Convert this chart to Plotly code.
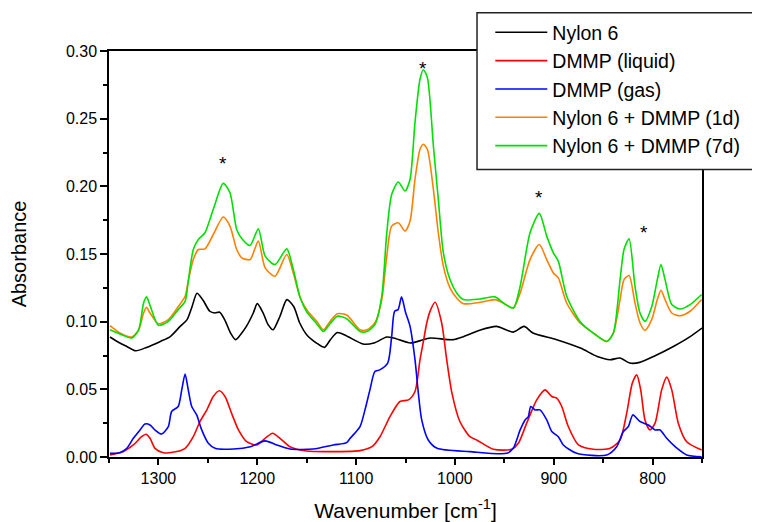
import plotly.graph_objects as go

# ---------------- data ----------------
wn_nylon = [1349, 1339, 1332, 1323, 1312, 1298, 1288, 1278, 1271, 1266, 1261, 1255, 1248, 1243, 1238,
            1233, 1227, 1222, 1217, 1211, 1204, 1200, 1194, 1189, 1184, 1177, 1170, 1163, 1157, 1150,
            1140, 1132, 1126, 1119, 1110, 1093, 1082, 1069, 1062, 1045, 1035, 1025, 1002, 991, 975,
            958, 941, 930, 921, 897, 873, 856, 843, 833, 823, 813, 799, 779, 762, 750]
abs_nylon = [0.0887, 0.0842, 0.0817, 0.0785, 0.081, 0.0854, 0.089, 0.0965, 0.1015, 0.111, 0.121, 0.116,
             0.1077, 0.1064, 0.107, 0.1015, 0.0916, 0.0867, 0.0904, 0.0965, 0.1064, 0.1133, 0.1064,
             0.0978, 0.094, 0.104, 0.1163, 0.111, 0.099, 0.0904, 0.0842, 0.081, 0.0867, 0.092, 0.0896,
             0.0835, 0.0842, 0.0887, 0.0879, 0.0842, 0.086, 0.0879, 0.0867, 0.089, 0.0936, 0.0965,
             0.0923, 0.0965, 0.0916, 0.0867, 0.0805, 0.0743, 0.0719, 0.0731, 0.0694, 0.0699, 0.0743,
             0.0817, 0.089, 0.0953]

wn_liquid = [1349, 1335.5, 1325.4, 1317, 1312.6, 1308.5, 1303.5, 1295, 1281.5, 1273, 1264.7, 1258, 1251,
             1244.5, 1238.4, 1232.6, 1226, 1219, 1210.7, 1200.6, 1192, 1184.4, 1177, 1166.9, 1150, 1123,
             1096, 1084, 1075.8, 1065.7, 1055.6, 1047, 1040.4, 1035.3, 1032, 1028.5, 1025, 1020, 1013.4,
             1008.3, 1003, 995, 984.7, 977.9, 961, 942.5, 935.8, 927.4, 917.2, 908.8, 902, 897, 891.9,
             885.3, 875, 859.9, 843, 832.9, 826.2, 820.5, 816, 812, 807.7, 802.6, 797.5, 790.8, 785.7,
             780.6, 774, 765.5, 750.4]
abs_liquid = [0.0015, 0.004, 0.0089, 0.015, 0.0168, 0.0138, 0.0064, 0.0032, 0.004, 0.0064, 0.015, 0.0262,
              0.0348, 0.0447, 0.0489, 0.0447, 0.0324, 0.02, 0.0113, 0.0089, 0.0138, 0.0175, 0.0138, 0.0076,
              0.0044, 0.004, 0.0047, 0.0076, 0.015, 0.0299, 0.041, 0.0422, 0.0484, 0.0719, 0.085, 0.099,
              0.108, 0.1143, 0.099, 0.0719, 0.0472, 0.0262, 0.015, 0.0126, 0.0057, 0.0057, 0.0101, 0.025,
              0.0422, 0.0496, 0.0447, 0.0435, 0.0373, 0.0225, 0.0089, 0.0057, 0.0064, 0.0126, 0.0324,
              0.0546, 0.0607, 0.0496, 0.0274, 0.02, 0.025, 0.0496, 0.059, 0.0496, 0.025, 0.0113, 0.0052]

wn_gas = [1349, 1339, 1332, 1325.4, 1318.6, 1313.6, 1308.5, 1303.5, 1296.7, 1290, 1286.6, 1280, 1276.4,
          1273, 1269.8, 1266.3, 1261.3, 1256.2, 1249.5, 1242.7, 1224, 1207, 1192, 1180.3, 1166.9, 1143.3,
          1123, 1109.5, 1106, 1096, 1091, 1086, 1081, 1076, 1068, 1064, 1061, 1057.5, 1054, 1050, 1045.4,
          1040.4, 1037, 1033.6, 1027, 1018, 984.7, 947.6, 941, 934, 929, 925.7, 923.3, 919, 913.9, 907.1,
          902, 895.4, 890.3, 876.8, 846.4, 836.3, 829.6, 824.5, 820, 812.7, 804.3, 797.5, 792.4, 785.7,
          777.2, 765.5, 750.4]
abs_gas = [0.0027, 0.0032, 0.0064, 0.0138, 0.02, 0.0244, 0.0237, 0.02, 0.017, 0.0225, 0.0336, 0.0373,
           0.0496, 0.0613, 0.0496, 0.0373, 0.0311, 0.02, 0.0101, 0.0064, 0.0059, 0.0076, 0.0119, 0.0089,
           0.0059, 0.0059, 0.0089, 0.0106, 0.0138, 0.0225, 0.0348, 0.0496, 0.0632, 0.0644, 0.0694, 0.089,
           0.1077, 0.1089, 0.1183, 0.107, 0.0965, 0.0719, 0.0472, 0.0274, 0.0126, 0.0064, 0.004, 0.0027,
           0.0064, 0.02, 0.0274, 0.0299, 0.0373, 0.0348, 0.0348, 0.0274, 0.0188, 0.015, 0.0089, 0.0027,
           0.0015, 0.0076, 0.0188, 0.0225, 0.0311, 0.0262, 0.0237, 0.02, 0.02, 0.0138, 0.0076, 0.0015,
           0.0002]

wn_mix = [1349, 1339, 1327, 1320, 1315, 1312, 1308.5, 1300, 1290, 1280, 1273, 1269.8, 1264.7, 1259.6,
          1252.9, 1244.5, 1234.4, 1227.6, 1220.8, 1215.7, 1207.3, 1198.9, 1192, 1182, 1170.2, 1163.5,
          1156.7, 1150, 1139.8, 1133, 1126.4, 1119, 1109.5, 1096, 1089, 1080.8, 1074, 1069, 1064, 1057.3,
          1050.5, 1045.4, 1040.4, 1035.3, 1032, 1027.9, 1021.8, 1016.8, 1011.7, 1005, 998.2, 991.5, 974.6,
          959.4, 951, 940.9, 934, 924, 914.6, 907.1, 900.4, 895.4, 886.9, 873.4, 860, 846.4, 839.7, 832.9,
          828.9, 823.8, 817.8, 812.7, 807.7, 800.9, 795.2, 791.5, 787.4, 780.6, 772.2, 762, 750.4]
abs_1d = [0.097, 0.0916, 0.0887, 0.094, 0.1064, 0.1106, 0.1064, 0.0985, 0.1015, 0.111, 0.1188, 0.13,
          0.1459, 0.1533, 0.1538, 0.1644, 0.1773, 0.1706, 0.1533, 0.1472, 0.1459, 0.1595, 0.1398, 0.1336,
          0.1496, 0.136, 0.118, 0.1089, 0.1002, 0.094, 0.1002, 0.1059, 0.1049, 0.094, 0.094, 0.0994,
          0.1163, 0.148, 0.1706, 0.1731, 0.1669, 0.1743, 0.2052, 0.2274, 0.2311, 0.2274, 0.1978, 0.1657,
          0.141, 0.125, 0.1175, 0.1133, 0.1143, 0.1163, 0.1138, 0.1101, 0.1212, 0.1459, 0.157, 0.1459,
          0.136, 0.1324, 0.1138, 0.099, 0.0916, 0.0854, 0.0916, 0.1163, 0.1311, 0.1341, 0.1138, 0.099,
          0.0936, 0.1015, 0.1163, 0.1232, 0.1163, 0.1064, 0.1044, 0.1077, 0.1163]
abs_7d = [0.094, 0.0909, 0.0879, 0.094, 0.1138, 0.1183, 0.112, 0.0973, 0.1002, 0.1089, 0.115, 0.13,
          0.1533, 0.1607, 0.1657, 0.183, 0.2022, 0.1953, 0.1681, 0.1615, 0.1563, 0.1686, 0.1484, 0.1422,
          0.1538, 0.1385, 0.118, 0.1073, 0.0985, 0.0928, 0.0985, 0.104, 0.1022, 0.0928, 0.0928, 0.098,
          0.1188, 0.165, 0.1940, 0.2032, 0.1965, 0.2052, 0.2472, 0.2793, 0.2862, 0.2805, 0.2300, 0.1904,
          0.1510, 0.1311, 0.1212, 0.1163, 0.1168, 0.1183, 0.1138, 0.1101, 0.1262, 0.1657, 0.18, 0.1632,
          0.1509, 0.1447, 0.1188, 0.1002, 0.0916, 0.0854, 0.0916, 0.1311, 0.1533, 0.1612, 0.1262, 0.1064,
          0.1002, 0.111, 0.1311, 0.1422, 0.1311, 0.1126, 0.1094, 0.1126, 0.12]

series_names = ["Nylon 6", "DMMP (liquid)", "DMMP (gas)", "Nylon 6 + DMMP (1d)", "Nylon 6 + DMMP (7d)"]
series_colors = ["#000000", "#FF0000", "#0000FF", "#FF8000", "#00E000"]

star_wn = [1234.5, 1032.5, 915, 808.5]
star_abs = [0.217, 0.287, 0.192, 0.1656]

x_tick_vals = [1300, 1200, 1100, 1000, 900, 800]
y_tick_vals = [0.00, 0.05, 0.10, 0.15, 0.20, 0.25, 0.30]

# ---------------- figure ----------------
FONT = "Arial, Liberation Sans, sans-serif"
fig = go.Figure()
xs = [wn_nylon, wn_liquid, wn_gas, wn_mix, wn_mix]
ys = [abs_nylon, abs_liquid, abs_gas, abs_1d, abs_7d]
for x, y, name, col in zip(xs, ys, series_names, series_colors):
    fig.add_trace(go.Scatter(x=x, y=y, name=name, mode="lines",
                             line=dict(color=col, width=1.6, shape="spline", smoothing=0.7)))

for sx, sy in zip(star_wn, star_abs):
    fig.add_annotation(x=sx, y=sy, text="*", showarrow=False, xanchor="center", yanchor="middle",
                       font=dict(family=FONT, size=19, color="black"))

# legend box
fig.add_shape(type="rect", xref="paper", yref="paper", x0=0.6206, x1=1.1, y0=0.708, y1=1.094,
              fillcolor="white", line=dict(color="#222222", width=1.5), layer="above")

# page body adds an 8 px margin, so the figure is 8 px smaller and margins shifted
fig.update_layout(
    width=752, height=514,
    margin=dict(l=101, r=58, t=43, b=65, autoexpand=False),
    paper_bgcolor="white", plot_bgcolor="white",
    font=dict(family=FONT, color="black"),
    showlegend=True,
    legend=dict(x=0.643, y=1.0934, xanchor="left", yanchor="top", bgcolor="rgba(0,0,0,0)",
                borderwidth=0, font=dict(family=FONT, size=19.5, color="black"),
                itemwidth=52, tracegroupgap=0),
    xaxis=dict(range=[1350, 750], autorange=False, tickvals=x_tick_vals, automargin=False,
               ticks="outside", ticklen=6, tickwidth=1.5, tickcolor="black",
               minor=dict(dtick=50, ticks="outside", ticklen=4, tickwidth=1.5, tickcolor="black"),
               showline=True, linecolor="black", linewidth=1.5, mirror=True,
               showgrid=False, zeroline=False, tickfont=dict(size=16),
               title=dict(text="Wavenumber [cm<sup>-1</sup>]", font=dict(size=21), standoff=20)),
    yaxis=dict(range=[0, 0.30], autorange=False, tickvals=y_tick_vals, tickformat=".2f", automargin=False,
               ticks="outside", ticklen=7, tickwidth=1.5, tickcolor="black",
               minor=dict(dtick=0.025, ticks="outside", ticklen=4, tickwidth=1.5, tickcolor="black"),
               showline=True, linecolor="black", linewidth=1.5, mirror=True,
               showgrid=False, zeroline=False, tickfont=dict(size=16),
               title=dict(text="Absorbance", font=dict(size=20), standoff=34)),
)

fig.write_html("out.html")
